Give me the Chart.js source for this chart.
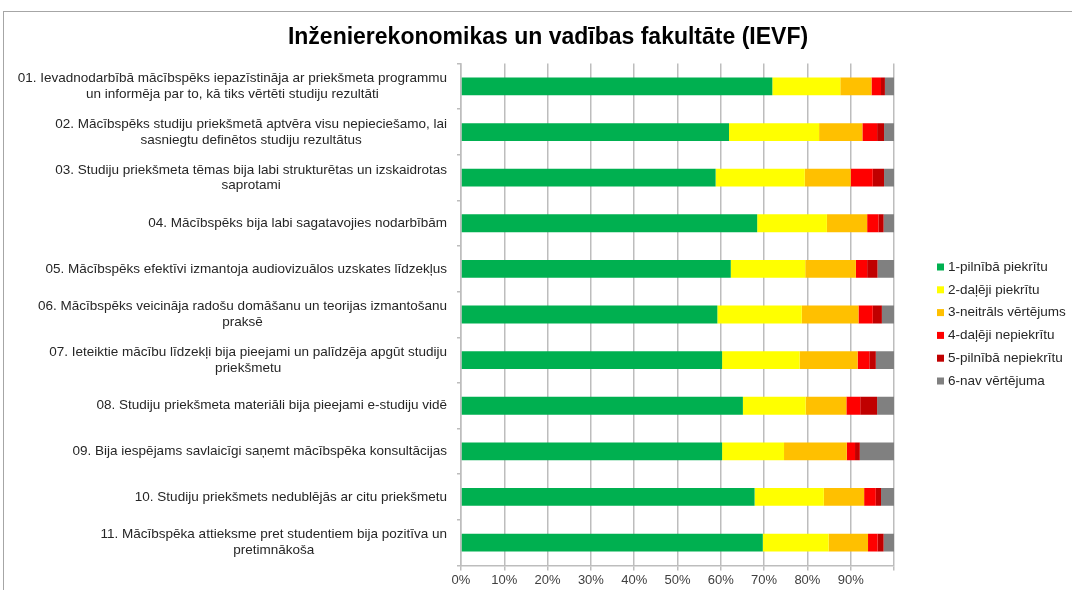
<!DOCTYPE html>
<html>
<head>
<meta charset="utf-8">
<script src="https://cdn.jsdelivr.net/npm/chart.js@4"></script>
<style>
  body { margin: 0; background: #fff; }
</style>
</head>
<body>
<canvas id="ievfChart" width="1072" height="590"></canvas>
<script>
// jautājumi (kategorijas), katrs sadalīts rindās
const jautajumi = [
    ['01. Ievadnodarbībā mācībspēks iepazīstināja ar priekšmeta programmu', 'un informēja par to, kā tiks vērtēti studiju rezultāti'],
    ['02. Mācībspēks studiju priekšmetā aptvēra visu nepieciešamo, lai', 'sasniegtu definētos studiju rezultātus'],
    ['03. Studiju priekšmeta tēmas bija labi strukturētas un izskaidrotas', 'saprotami'],
    ['04. Mācībspēks bija labi sagatavojies nodarbībām'],
    ['05. Mācībspēks efektīvi izmantoja audiovizuālos uzskates līdzekļus'],
    ['06. Mācībspēks veicināja radošu domāšanu un teorijas izmantošanu', 'praksē'],
    ['07. Ieteiktie mācību līdzekļi bija pieejami un palīdzēja apgūt studiju', 'priekšmetu'],
    ['08. Studiju priekšmeta materiāli bija pieejami e-studiju vidē'],
    ['09. Bija iespējams savlaicīgi saņemt mācībspēka konsultācijas'],
    ['10. Studiju priekšmets nedublējās ar citu priekšmetu'],
    ['11. Mācībspēka attieksme pret studentiem bija pozitīva un', 'pretimnākoša']
];

const sērijas = ['1-pilnībā piekrītu', '2-daļēji piekrītu', '3-neitrāls vērtējums',
    '4-daļēji nepiekrītu', '5-pilnībā nepiekrītu', '6-nav vērtējuma'];

// procenti katram jautājumam
const pilnibaPiekritu   = [71.9, 61.9, 58.8, 68.4, 62.3, 59.2, 60.3, 65.1, 60.3, 67.8, 69.7];
const dalejiPiekritu    = [15.7, 20.8, 20.6, 16.1, 17.2, 19.5, 17.9, 14.5, 14.3, 16.0, 15.2];
const neitrals          = [7.2, 10.0, 10.6, 9.3, 11.7, 13.1, 13.4, 9.4, 14.5, 9.3, 9.1];
const dalejiNepiekritu  = [2.2, 3.4, 5.1, 2.6, 2.6, 3.3, 2.7, 3.2, 1.9, 2.7, 2.2];
const pilnibaNepiekritu = [0.9, 1.6, 2.6, 1.2, 2.4, 2.1, 1.5, 3.9, 1.1, 1.2, 1.4];
const navVertejuma      = [2.1, 2.3, 2.3, 2.4, 3.8, 2.8, 4.2, 3.9, 7.9, 3.0, 2.4];

const xTicks = [0, 10, 20, 30, 40, 50, 60, 70, 80, 90, 100];

const krasas = ['#00B050', '#FFFF00', '#FFC000', '#FF0000', '#C00000', '#808080'];
const FONT = '"Liberation Sans", Arial, sans-serif';

// rāmis ap diagrammu
const ramis = {
    id: 'ramis',
    beforeDraw(chart) {
        const ctx = chart.ctx;
        ctx.save();
        ctx.strokeStyle = '#a6a6a6';
        ctx.lineWidth = 1;
        ctx.strokeRect(3.5, 11.5, 1200, 1200);
        ctx.restore();
    }
};

// y ass teksti: bloks pielīdzināts pa labi, rindas centrētas
const jautajumuTeksti = {
    id: 'jautajumuTeksti',
    afterDraw(chart) {
        const ctx = chart.ctx;
        const y = chart.scales.y;
        ctx.save();
        ctx.font = '13.5px ' + FONT;
        ctx.fillStyle = '#262626';
        ctx.textAlign = 'center';
        ctx.textBaseline = 'middle';
        jautajumi.forEach((rindas, i) => {
            const yc = y.getPixelForValue(i);
            const platums = Math.max(...rindas.map(r => ctx.measureText(r).width));
            const xc = chart.chartArea.left - 14 - platums / 2;
            rindas.forEach((r, j) => {
                ctx.fillText(r, xc, yc + (j - (rindas.length - 1) / 2) * 15.7);
            });
        });
        ctx.restore();
    }
};

// leģenda labajā pusē
const legenda = {
    id: 'legenda',
    afterDraw(chart) {
        const ctx = chart.ctx;
        const x0 = chart.chartArea.right + 43;
        const y0 = 267;
        ctx.save();
        ctx.font = '13.5px ' + FONT;
        ctx.textBaseline = 'middle';
        ctx.textAlign = 'left';
        chart.data.datasets.forEach((ds, i) => {
            const yy = y0 + i * 22.8;
            ctx.fillStyle = ds.backgroundColor;
            ctx.fillRect(x0, yy - 3.5, 7, 7);
            ctx.fillStyle = '#262626';
            ctx.fillText(ds.label, x0 + 11, yy);
        });
        ctx.restore();
    }
};

const vertibas = [pilnibaPiekritu, dalejiPiekritu, neitrals, dalejiNepiekritu, pilnibaNepiekritu, navVertejuma];

new Chart(document.getElementById('ievfChart').getContext('2d'), {
    type: 'bar',
    data: {
        labels: jautajumi.map(r => r.join(' ')),
        datasets: sērijas.map((nosaukums, i) => ({
            label: nosaukums,
            data: vertibas[i],
            backgroundColor: krasas[i],
            borderWidth: 0,
            categoryPercentage: 1,
            barPercentage: 0.39
        }))
    },
    options: {
        indexAxis: 'y',
        responsive: false,
        animation: false,
        devicePixelRatio: 1,
        layout: { padding: { left: 202, right: 178, top: 0, bottom: 0 } },
        plugins: {
            legend: { display: false },
            tooltip: { enabled: false },
            title: {
                display: true,
                text: 'Inženierekonomikas un vadības fakultāte (IEVF)',
                color: '#000',
                font: { family: FONT, size: 23, weight: 'bold' },
                padding: { top: 24, bottom: 12 }
            }
        },
        scales: {
            x: {
                stacked: true,
                min: 0,
                max: 100,
                afterBuildTicks: scale => { scale.ticks = xTicks.map(v => ({ value: v })); },
                ticks: {
                    color: '#404040',
                    font: { family: FONT, size: 13 },
                    padding: 2,
                    maxRotation: 0,
                    callback: v => (v < 100 ? v + '%' : '')
                },
                grid: { color: '#bdbdbd', lineWidth: 1.5, tickLength: 5 },
                border: { color: '#bdbdbd', width: 1.5 }
            },
            y: {
                stacked: true,
                ticks: { display: false },
                grid: { drawOnChartArea: false, drawTicks: true, tickLength: 4, color: '#bdbdbd', lineWidth: 1.5 },
                border: { color: '#bdbdbd', width: 1.5 },
                afterFit: scale => { scale.width = 259; }
            }
        }
    },
    plugins: [ramis, jautajumuTeksti, legenda]
});
</script>
</body>
</html>
